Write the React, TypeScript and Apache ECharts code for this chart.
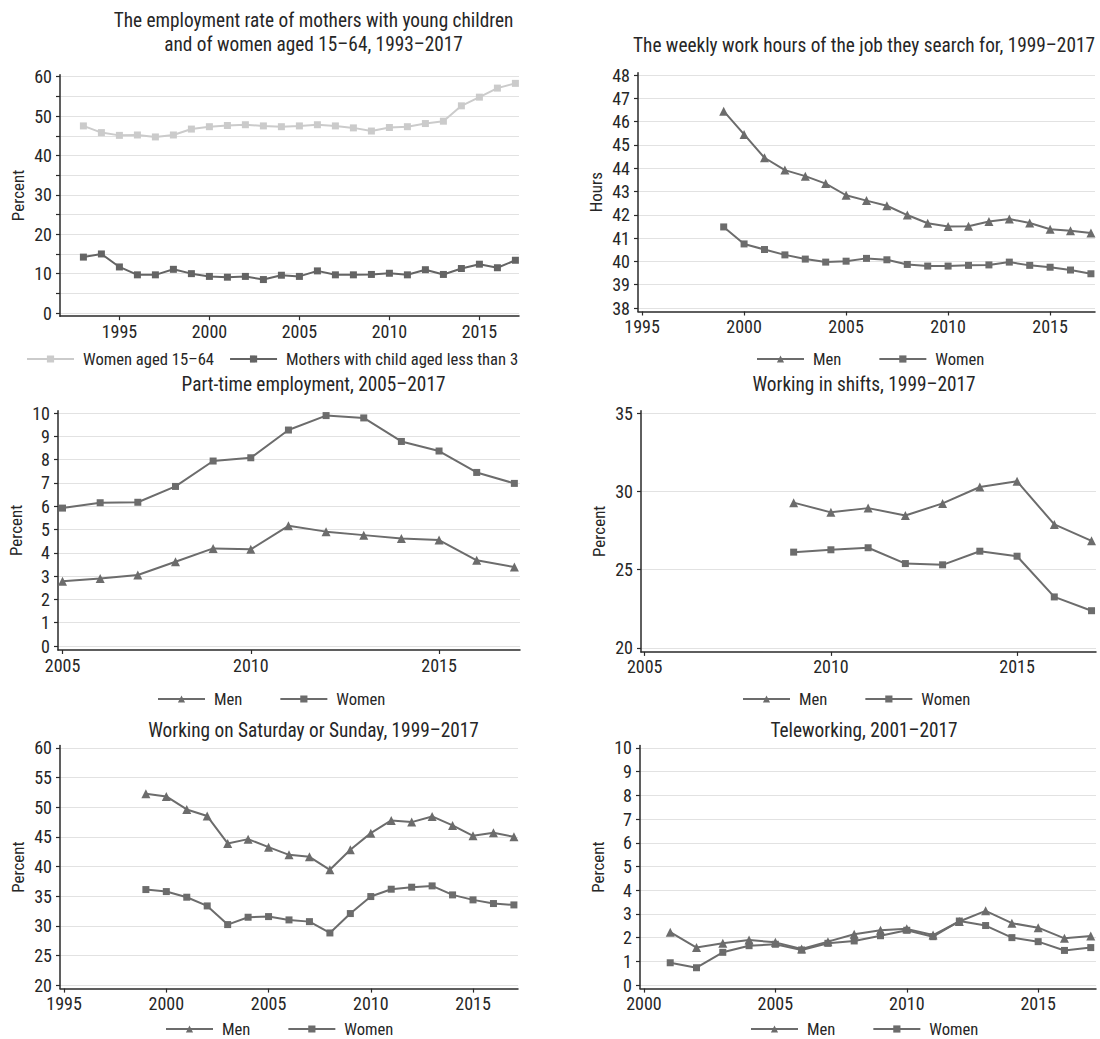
import { useEffect, useRef } from "react";
import * as echarts from "echarts";

const FONT = "'Roboto Condensed', 'Liberation Sans Narrow', sans-serif";

// Panel 1: employment rate
const yearsP1 = [1993, 1994, 1995, 1996, 1997, 1998, 1999, 2000, 2001, 2002, 2003, 2004, 2005, 2006, 2007, 2008, 2009, 2010, 2011, 2012, 2013, 2014, 2015, 2016, 2017];
const womenAged = [47.5, 45.8, 45.1, 45.2, 44.7, 45.2, 46.7, 47.3, 47.6, 47.8, 47.5, 47.3, 47.5, 47.8, 47.5, 47.0, 46.2, 47.1, 47.3, 48.1, 48.7, 52.6, 54.8, 57.1, 58.3];
const mothers = [14.2, 15.0, 11.7, 9.7, 9.7, 11.1, 10.0, 9.3, 9.1, 9.3, 8.5, 9.6, 9.3, 10.7, 9.7, 9.7, 9.8, 10.1, 9.7, 11.0, 9.8, 11.3, 12.4, 11.5, 13.4];

// Panel 2: weekly work hours
const yearsP2 = [1999, 2000, 2001, 2002, 2003, 2004, 2005, 2006, 2007, 2008, 2009, 2010, 2011, 2012, 2013, 2014, 2015, 2016, 2017];
const hoursMen = [46.45, 45.45, 44.45, 43.92, 43.66, 43.34, 42.84, 42.61, 42.39, 41.99, 41.64, 41.5, 41.51, 41.71, 41.82, 41.65, 41.38, 41.32, 41.22];
const hoursWomen = [41.48, 40.75, 40.51, 40.28, 40.1, 39.97, 40.01, 40.13, 40.07, 39.87, 39.8, 39.8, 39.83, 39.85, 39.97, 39.83, 39.75, 39.63, 39.47];

// Panel 3: part-time
const yearsP3 = [2005, 2006, 2007, 2008, 2009, 2010, 2011, 2012, 2013, 2014, 2015, 2016, 2017];
const partMen = [2.78, 2.9, 3.05, 3.62, 4.19, 4.15, 5.16, 4.91, 4.76, 4.62, 4.55, 3.68, 3.39];
const partWomen = [5.92, 6.15, 6.17, 6.85, 7.94, 8.08, 9.27, 9.89, 9.79, 8.78, 8.37, 7.45, 6.98];

// Panel 4: shifts
const yearsP4 = [2009, 2010, 2011, 2012, 2013, 2014, 2015, 2016, 2017];
const shiftMen = [29.28, 28.66, 28.93, 28.46, 29.23, 30.28, 30.64, 27.89, 26.84];
const shiftWomen = [26.12, 26.27, 26.4, 25.39, 25.31, 26.18, 25.86, 23.26, 22.38];

// Panel 5: weekend work
const yearsP5 = [1999, 2000, 2001, 2002, 2003, 2004, 2005, 2006, 2007, 2008, 2009, 2010, 2011, 2012, 2013, 2014, 2015, 2016, 2017];
const weekendMen = [52.28, 51.83, 49.63, 48.51, 43.89, 44.62, 43.27, 41.97, 41.63, 39.44, 42.82, 45.63, 47.77, 47.49, 48.45, 46.93, 45.18, 45.69, 45.01];
const weekendWomen = [36.11, 35.77, 34.82, 33.35, 30.2, 31.44, 31.55, 30.99, 30.7, 28.79, 32.06, 34.93, 36.17, 36.51, 36.73, 35.21, 34.37, 33.75, 33.52];

// Panel 6: teleworking
const yearsP6 = [2001, 2002, 2003, 2004, 2005, 2006, 2007, 2008, 2009, 2010, 2011, 2012, 2013, 2014, 2015, 2016, 2017];
const teleMen = [2.23, 1.58, 1.76, 1.9, 1.8, 1.52, 1.83, 2.14, 2.31, 2.37, 2.11, 2.68, 3.13, 2.61, 2.42, 1.97, 2.07];
const teleWomen = [0.94, 0.73, 1.38, 1.66, 1.72, 1.48, 1.76, 1.86, 2.08, 2.31, 2.04, 2.7, 2.51, 2.0, 1.83, 1.46, 1.58];

// Tick labels
const xTicks1995 = [1995, 2000, 2005, 2010, 2015];
const xTicks2005 = [2005, 2010, 2015];
const xTicks2000 = [2000, 2005, 2010, 2015];
const yTicksP1 = [0, 5, 10, 15, 20, 25, 30, 35, 40, 45, 50, 55, 60];
const yLabelsP1 = [0, 10, 20, 30, 40, 50, 60];
const yTicksP2 = [38, 39, 40, 41, 42, 43, 44, 45, 46, 47, 48];
const yTicks0to10 = [0, 1, 2, 3, 4, 5, 6, 7, 8, 9, 10];
const yTicksP4 = [20, 25, 30, 35];
const yTicksP5 = [20, 25, 30, 35, 40, 45, 50, 55, 60];

const DARK = "#6c6c6c";
const LIGHT = "#cbcbcb";
const AXIS = "#2a2a2a";
const TEXT = "#262626";
const GRIDC = "#e2e2e2";
const FS_TICK = 18;
const FS_TITLE = 19.3;
const FS_LEGEND = 16.6;
const FS_NAME = 17;

const zip = (xs: number[], ys: number[]) => xs.map((x, i) => [x, ys[i]]);

type Panel = {
  grid: { left: number; top: number; width: number; height: number };
  xr: [number, number];
  yr: [number, number];
  xTicks: number[];
  yTicks: number[];
  yLabels: number[];
  yName: string;
};

const panels: Panel[] = [
  { grid: { left: 60, top: 74.7, width: 459, height: 241.5 }, xr: [1991.7, 2017.2], yr: [-0.8, 60.5], xTicks: xTicks1995, yTicks: yTicksP1, yLabels: yLabelsP1, yName: "Percent" },
  { grid: { left: 638, top: 72.7, width: 457, height: 238.8 }, xr: [1994.8, 2017.2], yr: [37.85, 48.1], xTicks: xTicks1995, yTicks: yTicksP2, yLabels: yTicksP2, yName: "Hours" },
  { grid: { left: 58, top: 410.7, width: 462, height: 239.3 }, xr: [2004.88, 2017.15], yr: [-0.17, 10.1], xTicks: xTicks2005, yTicks: yTicks0to10, yLabels: yTicks0to10, yName: "Percent" },
  { grid: { left: 641, top: 410.7, width: 455, height: 241.2 }, xr: [2004.9, 2017.12], yr: [19.75, 35.15], xTicks: xTicks2005, yTicks: yTicksP4, yLabels: yTicksP4, yName: "Percent" },
  { grid: { left: 60, top: 745.6, width: 458, height: 243 }, xr: [1994.8, 2017.2], yr: [19.4, 60.4], xTicks: xTicks1995, yTicks: yTicksP5, yLabels: yTicksP5, yName: "Percent" },
  { grid: { left: 640, top: 745.6, width: 456, height: 243 }, xr: [1999.85, 2017.2], yr: [-0.15, 10.1], xTicks: xTicks2000, yTicks: yTicks0to10, yLabels: yTicks0to10, yName: "Percent" },
];

const titles = [
  { text: "The employment rate of mothers with young children", x: 313.5, y: 20 },
  { text: "and of women aged 15–64, 1993–2017", x: 313.5, y: 44 },
  { text: "The weekly work hours of the job they search for, 1999–2017", x: 864, y: 45 },
  { text: "Part-time employment, 2005–2017", x: 313.5, y: 384 },
  { text: "Working in shifts, 1999–2017", x: 864, y: 384 },
  { text: "Working on Saturday or Sunday, 1999–2017", x: 313.5, y: 730 },
  { text: "Teleworking, 2001–2017", x: 864, y: 730 },
];

const legends = [
  { data: ["Women aged 15–64", "Mothers with child aged less than 3"], left: 21, cy: 355, gap: 15 },
  { data: ["Men", "Women"], left: 751, cy: 355, gap: 37 },
  { data: ["Men", "Women"], left: 152, cy: 695, gap: 37 },
  { data: ["Men", "Women"], left: 737, cy: 695, gap: 37 },
  { data: ["Men", "Women"], left: 160, cy: 1025, gap: 37 },
  { data: ["Men", "Women"], left: 745, cy: 1025, gap: 37 },
];

function lineSeries(name: string, idx: number, xs: number[], ys: number[], symbol: string, color: string, z = 2) {
  return {
    type: "line",
    name,
    xAxisIndex: idx,
    yAxisIndex: idx,
    data: zip(xs, ys),
    symbol,
    symbolSize: symbol === "triangle" ? 9 : 7,
    showSymbol: true,
    lineStyle: { color, width: 2 },
    itemStyle: { color },
    z,
  };
}

export default function App() {
  const ref = useRef<HTMLDivElement>(null);
  useEffect(() => {
    document.body.style.margin = "0";
    if (!ref.current) return;
    const chart = echarts.init(ref.current, undefined, { renderer: "svg" });

    const grid = panels.map((p) => ({ ...p.grid, containLabel: false }));
    const xAxis = panels.map((p, i) => ({
      type: "value",
      gridIndex: i,
      min: p.xr[0],
      max: p.xr[1],
      axisLine: { show: true, onZero: false, lineStyle: { color: AXIS, width: 1.5 } },
      axisTick: { show: true, length: 4, customValues: p.xTicks, lineStyle: { color: AXIS, width: 1.2 } },
      axisLabel: { show: true, customValues: p.xTicks, margin: 6, lineHeight: 18, color: TEXT, fontFamily: FONT, fontSize: FS_TICK, formatter: (v: number) => String(v) },
      splitLine: { show: false },
    }));
    const yAxis = panels.map((p, i) => ({
      type: "value",
      gridIndex: i,
      min: p.yr[0],
      max: p.yr[1],
      name: p.yName,
      nameLocation: "middle",
      nameGap: 34,
      nameTextStyle: { color: TEXT, fontFamily: FONT, fontSize: FS_NAME },
      axisLine: { show: true, onZero: false, lineStyle: { color: AXIS, width: 1.5 } },
      axisTick: { show: true, length: 4, customValues: p.yTicks, lineStyle: { color: AXIS, width: 1.2 } },
      axisLabel: { show: true, customValues: p.yLabels, margin: 8, lineHeight: 18, color: TEXT, fontFamily: FONT, fontSize: FS_TICK, formatter: (v: number) => String(v) },
      splitLine: { show: true, lineStyle: { color: GRIDC, width: 1.2 } },
    }));

    const series = [
      lineSeries("Women aged 15–64", 0, yearsP1, womenAged, "rect", LIGHT),
      lineSeries("Mothers with child aged less than 3", 0, yearsP1, mothers, "rect", "#646464"),
      lineSeries("Men", 1, yearsP2, hoursMen, "triangle", DARK),
      lineSeries("Women", 1, yearsP2, hoursWomen, "rect", DARK),
      lineSeries("Men", 2, yearsP3, partMen, "triangle", DARK),
      lineSeries("Women", 2, yearsP3, partWomen, "rect", DARK),
      lineSeries("Men", 3, yearsP4, shiftMen, "triangle", DARK),
      lineSeries("Women", 3, yearsP4, shiftWomen, "rect", DARK),
      lineSeries("Men", 4, yearsP5, weekendMen, "triangle", DARK),
      lineSeries("Women", 4, yearsP5, weekendWomen, "rect", DARK),
      lineSeries("Men", 5, yearsP6, teleMen, "triangle", DARK),
      lineSeries("Women", 5, yearsP6, teleWomen, "rect", DARK),
    ];

    const legend = legends.map((l) => ({
      data: l.data,
      left: l.left,
      top: l.cy - 10,
      orient: "horizontal",
      itemWidth: 47,
      itemHeight: 9,
      itemGap: l.gap,
      selectedMode: false,
      textStyle: { color: TEXT, fontFamily: FONT, fontSize: FS_LEGEND, lineHeight: 18, padding: [0, 0, 0, 4] },
    }));

    const graphic = titles.map((t) => ({
      type: "text",
      x: t.x,
      y: t.y,
      silent: true,
      style: {
        text: t.text,
        fill: TEXT,
        fontFamily: FONT,
        fontSize: FS_TITLE,
        textAlign: "center",
        textVerticalAlign: "middle",
      },
    }));

    chart.setOption({
      animation: false,
      backgroundColor: "#ffffff",
      grid,
      xAxis,
      yAxis,
      series,
      legend,
      graphic,
    });
    return () => chart.dispose();
  }, []);
  return <div ref={ref} style={{ width: 1100, height: 1039, fontStretch: "condensed" }} />;
}
